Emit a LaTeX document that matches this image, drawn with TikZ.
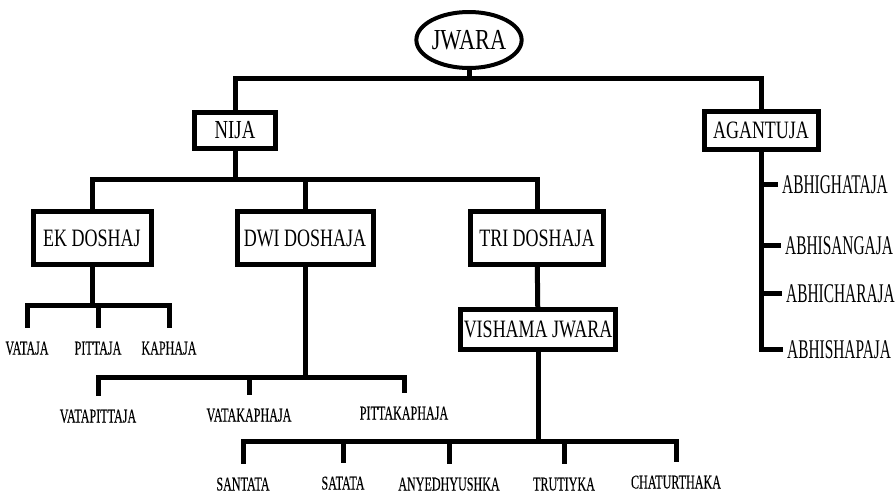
\documentclass[tikz,border=0pt]{standalone}
\usepackage{fontspec}
\setmainfont{Liberation Serif}
\newfontfamily\rootfont[FakeStretch=0.77]{Liberation Serif}
\newfontfamily\boxfont[FakeStretch=0.72]{Liberation Serif}
\newfontfamily\leaffont[FakeStretch=0.62,FakeBold=0.15]{Liberation Serif}
\newfontfamily\sidefont[FakeStretch=0.57]{Liberation Serif}
\usetikzlibrary{shapes.geometric}

\begin{document}
\begin{tikzpicture}[
  x=1pt, y=-1pt,
  link/.style={line width=5pt},
  root/.style={draw, ellipse, line width=4pt, inner sep=0pt,
               minimum width=101pt, minimum height=56pt,
               font=\rootfont\fontsize{29}{29}\selectfont,
               text height=19pt, text depth=0pt},
  box/.style={draw, line width=5pt, inner sep=0pt, minimum height=36pt,
              font=\boxfont\fontsize{25}{25}\selectfont,
              text height=16.5pt, text depth=0pt},
  tallbox/.style={box, minimum height=53pt},
  leaf/.style={inner xsep=0pt, inner ysep=13pt,
               font=\leaffont\fontsize{19.5}{19.5}\selectfont,
               text height=13pt, text depth=0pt},
  side/.style={anchor=west, inner xsep=4pt, inner ysep=0pt,
               font=\sidefont\fontsize{27}{27}\selectfont,
               text height=18pt, text depth=0pt}
]
\path[use as bounding box, fill=white] (0,0) rectangle (896,493);

\node[root] (jwara) at (469,40) {JWARA};
\node[box, minimum width=81pt, font=\boxfont\fontsize{26}{26}\selectfont] (nija) at (235,130) {NIJA};
\node[box, minimum width=114pt, minimum height=38pt] (agantuja) at (761,130.5) {AGANTUJA};
\node[tallbox, minimum width=118pt] (ek) at (92,238) {EK DOSHAJ};
\node[tallbox, minimum width=136pt] (dwi) at (305,238) {DWI DOSHAJA};
\node[tallbox, minimum width=133pt] (tri) at (537,238) {TRI DOSHAJA};
\node[box, minimum width=155pt, minimum height=40pt] (vishama) at (538,329.5) {VISHAMA JWARA};

\node[leaf] (vataja) at (27,348) {VATAJA};
\node[leaf] (pittaja) at (98,348) {PITTAJA};
\node[leaf] (kaphaja) at (169,348) {KAPHAJA};
\node[leaf] (vatapitta) at (98,416) {VATAPITTAJA};
\node[leaf] (vatakapha) at (249,415) {VATAKAPHAJA};
\node[leaf] (pittakapha) at (404,413) {PITTAKAPHAJA};
\node[leaf] (santata) at (243,484) {SANTATA};
\node[leaf] (satata) at (343,483) {SATATA};
\node[leaf] (anyedhyu) at (449,484) {ANYEDHYUSHKA};
\node[leaf] (trutiyka) at (564,484) {TRUTIYKA};
\node[leaf] (chaturtha) at (676,482) {CHATURTHAKA};

\node[side] (abhighata) at (778,184) {ABHIGHATAJA};
\node[side] (abhisanga) at (781,245) {ABHISANGAJA};
\node[side] (abhichara) at (782,293) {ABHICHARAJA};
\node[side] (abhishapa) at (783,349) {ABHISHAPAJA};

\coordinate (topbus) at (0,78);
\coordinate (nijabus) at (0,179);
\coordinate (ekbus) at (0,305);
\coordinate (dwibus) at (0,377);
\coordinate (vishbus) at (0,441);

\draw[link] (jwara.south) -- (jwara.south |- topbus) -| (nija.north);
\draw[link] (jwara.south) -- (jwara.south |- topbus) -| (agantuja.north);
\draw[link] (nija.south) -- (nija.south |- nijabus) -| (ek.north);
\draw[link] (nija.south) -- (nija.south |- nijabus) -| (dwi.north);
\draw[link] (nija.south) -- (nija.south |- nijabus) -| (tri.north);
\draw[link] (tri) -- (vishama);
\draw[link] (ek.south) -- (ek.south |- ekbus) -| (vataja.north);
\draw[link] (ek.south) -- (ek.south |- ekbus) -| (pittaja.north);
\draw[link] (ek.south) -- (ek.south |- ekbus) -| (kaphaja.north);
\draw[link] (dwi.south) -- (dwi.south |- dwibus) -| (vatapitta.north);
\draw[link] (dwi.south) -- (dwi.south |- dwibus) -| (vatakapha.north);
\draw[link] (dwi.south) -- (dwi.south |- dwibus) -| (pittakapha.north);
\draw[link] (vishama.south) -- (vishama.south |- vishbus) -| (santata.north);
\draw[link] (vishama.south) -- (vishama.south |- vishbus) -| (satata.north);
\draw[link] (vishama.south) -- (vishama.south |- vishbus) -| (anyedhyu.north);
\draw[link] (vishama.south) -- (vishama.south |- vishbus) -| (trutiyka.north);
\draw[link] (vishama.south) -- (vishama.south |- vishbus) -| (chaturtha.north);
\draw[link] (agantuja.south) |- (abhighata.west);
\draw[link] (agantuja.south) |- (abhisanga.west);
\draw[link] (agantuja.south) |- (abhichara.west);
\draw[link] (agantuja.south) |- (abhishapa.west);
\end{tikzpicture}
\end{document}
